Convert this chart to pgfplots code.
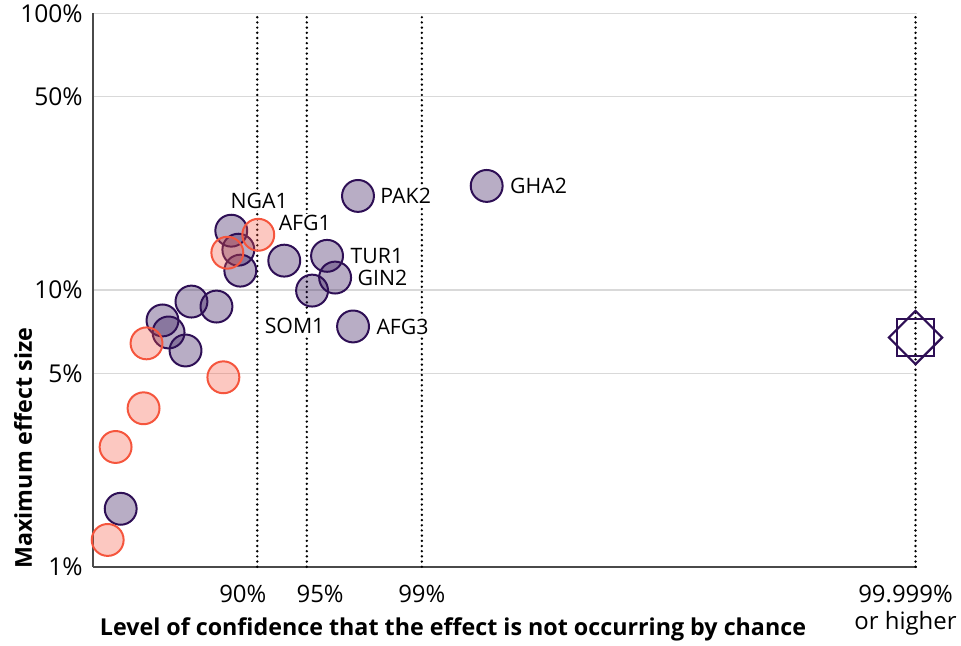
\documentclass[border=0pt]{standalone}
\usepackage{pgfplots}
\pgfplotsset{compat=1.18}
\usepackage{fontspec}
\setmainfont{Open Sans}
\definecolor{pdark}{HTML}{2E0F55}
\definecolor{rdark}{HTML}{F5553D}
\definecolor{gridgray}{HTML}{D9D9D9}
\definecolor{axisgray}{HTML}{4A4A4A}
\tikzset{lbl/.style={fill=white, inner sep=1pt, font=\fontsize{16}{18}\selectfont}}
\begin{document}
\begin{tikzpicture}
\begin{axis}[
  scale only axis, width=620.25pt, height=416.25pt,
  xmin=0, xmax=5.01, ymin=1, ymax=100, ymode=log,
  axis x line=bottom, axis y line=left,
  axis line style={-, line width=1.4pt, draw=axisgray},
  xtick={0.912,1.382,2,4.939},
  xticklabels={90\%,95\%,99\%,{99.999\%\\or higher}},
  ytick={1,5,10,50,100},
  yticklabels={1\%,5\%,10\%,50\%,100\%},
  major tick length=0pt,
  ymajorgrids, grid style={draw=gridgray, line width=1pt},
  xticklabel style={font=\fontsize{18}{21}\selectfont, align=center, yshift=-10pt},
  yticklabel style={font=\fontsize{18.5}{21}\selectfont, xshift=-4pt},
  xlabel={Level of confidence that the effect is not occurring by chance},
  ylabel={Maximum effect size},
  label style={font=\bfseries\fontsize{17.5}{20}\selectfont},
  xlabel style={at={(rel axis cs:0.437,-0.1243)}, anchor=base},
  ylabel style={at={(rel axis cs:-0.0846,0.2144)}, anchor=center},
  clip=false,
]
% purple series
\addplot[only marks, mark=*, mark size=12pt,
  mark options={draw=pdark, line width=1.5pt, fill=pdark, fill opacity=0.34}]
  table[row sep=\\]{
  x y\\
  1.612 21.9\\
  2.394 23.8\\
  0.842 16.4\\
  0.885 14.0\\
  0.897 11.76\\
  1.164 12.78\\
  1.424 13.3\\
  1.473 11.1\\
  1.333 9.96\\
  1.582 7.39\\
  0.424 7.77\\
  0.461 7.03\\
  0.600 9.09\\
  0.752 8.72\\
  0.564 6.05\\
  0.170 1.62\\
  };
% red series
\addplot[only marks, mark=*, mark size=12pt,
  mark options={draw=rdark, line width=1.5pt, fill=rdark, fill opacity=0.32}]
  table[row sep=\\]{
  x y\\
  1.006 15.85\\
  0.818 13.65\\
  0.327 6.42\\
  0.794 4.84\\
  0.309 3.74\\
  0.139 2.71\\
  0.091 1.25\\
  };
% dotted reference lines
\addplot[black, line width=2pt, dash pattern=on 0pt off 3.9pt, line cap=round] coordinates {(1,1) (1,100)};
\addplot[black, line width=2pt, dash pattern=on 0pt off 3.9pt, line cap=round] coordinates {(1.301,1) (1.301,100)};
\addplot[black, line width=2pt, dash pattern=on 0pt off 3.9pt, line cap=round] coordinates {(2,1) (2,100)};
\addplot[black, line width=2pt, dash pattern=on 0pt off 3.9pt, line cap=round] coordinates {(5,1) (5,100)};
% star marker
\addplot[only marks, mark=square, mark size=13.8pt, mark options={draw=pdark, line width=1.6pt}] coordinates {(5,6.74)};
\addplot[only marks, mark=square, mark size=14.2pt, mark options={draw=pdark, line width=1.6pt, rotate=45}] coordinates {(5,6.74)};
% labels
\node[lbl, anchor=center] at (axis cs:1.012,21.02) {NGA1};
\node[lbl, anchor=west] at (axis cs:1.121,17.51) {AFG1};
\node[lbl, anchor=west] at (axis cs:1.739,21.9) {PAK2};
\node[lbl, anchor=west] at (axis cs:2.527,23.8) {GHA2};
\node[lbl, anchor=west] at (axis cs:1.558,13.3) {TUR1};
\node[lbl, anchor=west] at (axis cs:1.600,11.1) {GIN2};
\node[lbl, anchor=west] at (axis cs:1.036,7.45) {SOM1};
\node[lbl, anchor=west] at (axis cs:1.715,7.39) {AFG3};
\path (rel axis cs:0,0) ++(-69.75pt,-56.25pt) coordinate (bbsw);
\path (rel axis cs:1,1) ++(31pt,9pt) coordinate (bbne);
\end{axis}
\path (bbsw) rectangle (bbne);
\end{tikzpicture}
\end{document}
